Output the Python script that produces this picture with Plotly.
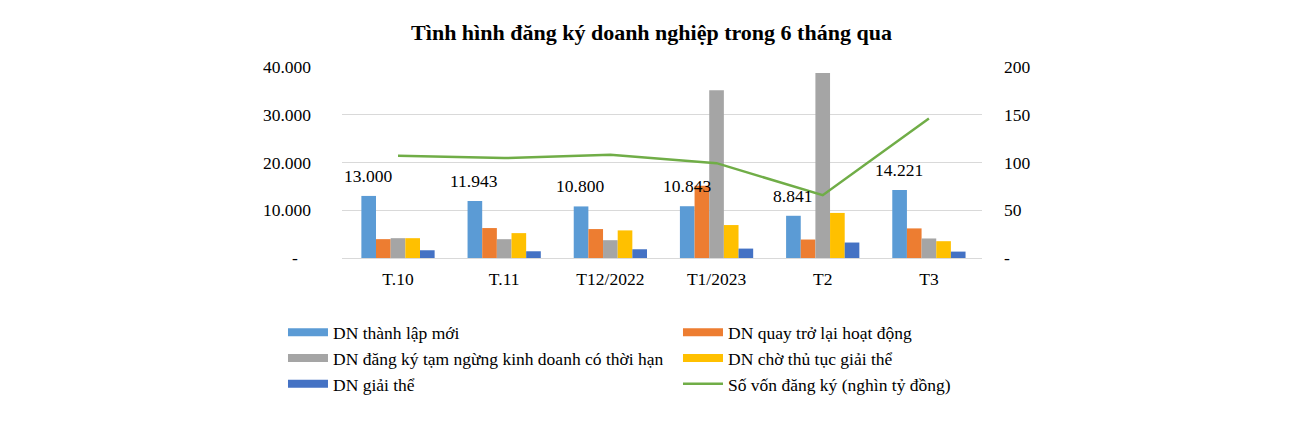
import plotly.graph_objects as go

categories = ["T.10", "T.11", "T12/2022", "T1/2023", "T2", "T3"]
dn_thanh_lap_moi = [13000, 11943, 10800, 10843, 8841, 14221]
dn_quay_tro_lai = [3950, 6270, 6060, 15140, 3870, 6200]
dn_tam_ngung = [4150, 3940, 3730, 35140, 38730, 4090]
dn_cho_giai_the = [4150, 5210, 5780, 6900, 9440, 3520]
dn_giai_the = [1620, 1410, 1830, 1970, 3240, 1340]
so_von = [107.0, 104.6, 108.1, 99.3, 65.8, 146.1]

names = [
    "DN thành lập mới",
    "DN quay trở lại hoạt động",
    "DN đăng ký tạm ngừng kinh doanh có thời hạn",
    "DN chờ thủ tục giải thể",
    "DN giải thể",
    "Số vốn đăng ký (nghìn tỷ đồng)",
]
colors = ["#5b9bd5", "#ed7d31", "#a5a5a5", "#ffc000", "#4472c4", "#70ad47"]

left_ticks = [0, 10000, 20000, 30000, 40000]
left_ticktext = ["-\u00a0\u00a0\u00a0", "10.000", "20.000", "30.000", "40.000"]
right_ticks = [0, 50, 100, 150, 200]
right_ticktext = ["-", "50", "100", "150", "200"]

FONT = "Liberation Serif, Times New Roman, serif"

fig = go.Figure()
series = [dn_thanh_lap_moi, dn_quay_tro_lai, dn_tam_ngung, dn_cho_giai_the, dn_giai_the]
for name, vals, col in zip(names[:5], series, colors[:5]):
    fig.add_trace(go.Bar(x=categories, y=vals, name=name, marker_color=col,
                         marker_line_width=0, showlegend=False, yaxis="y"))

fig.add_trace(go.Scatter(x=categories, y=so_von, name=names[5], mode="lines",
                         line=dict(color=colors[5], width=2.5), yaxis="y2",
                         showlegend=False))

# legend entries (wide rectangles like the original)
for name, col in zip(names[:5], colors[:5]):
    fig.add_trace(go.Scatter(x=[None], y=[None], name=name, mode="lines",
                             line=dict(color=col, width=8), yaxis="y"))
fig.add_trace(go.Scatter(x=[None], y=[None], name=names[5], mode="lines",
                         line=dict(color=colors[5], width=2.5), yaxis="y2"))

for c, v in zip(categories, dn_thanh_lap_moi):
    fig.add_annotation(x=c, y=v, xref="x", yref="y", text=f"{v:,}".replace(",", "."),
                       showarrow=False, yanchor="bottom", xshift=-30, yshift=8,
                       font=dict(family=FONT, size=17.5, color="black"))

fig.update_layout(
    width=1303, height=424,
    margin=dict(l=342, r=321, t=67, b=166),
    paper_bgcolor="white", plot_bgcolor="white",
    barmode="group", bargap=0.31, bargroupgap=0,
    font=dict(family=FONT, size=17.5, color="black"),
    title=dict(text="<b>Tình hình đăng ký doanh nghiệp trong 6 tháng qua</b>",
               x=0.5, xanchor="center", y=1 - 32 / 424, yanchor="middle",
               yref="container", font=dict(family=FONT, size=22, color="black")),
    xaxis=dict(showline=True, linecolor="#d9d9d9", linewidth=1, ticks="",
               showgrid=False, ticklabelstandoff=5),
    yaxis=dict(range=[0, 40000], tickvals=left_ticks, ticktext=left_ticktext,
               showgrid=True, gridcolor="#d9d9d9", gridwidth=1, zeroline=False,
               ticks="", ticklabelstandoff=30),
    yaxis2=dict(range=[0, 200], tickvals=right_ticks, ticktext=right_ticktext,
                overlaying="y", side="right", showgrid=False, zeroline=False,
                ticks="", ticklabelstandoff=21),
    legend=dict(orientation="h", x=-0.0922, xanchor="left", y=-0.295, yanchor="top",
                entrywidth=340, entrywidthmode="pixels", itemwidth=40,
                font=dict(family=FONT, size=17.5, color="black"),
                tracegroupgap=0, bgcolor="rgba(0,0,0,0)"),
    showlegend=True,
)

fig.write_html("out.html")
